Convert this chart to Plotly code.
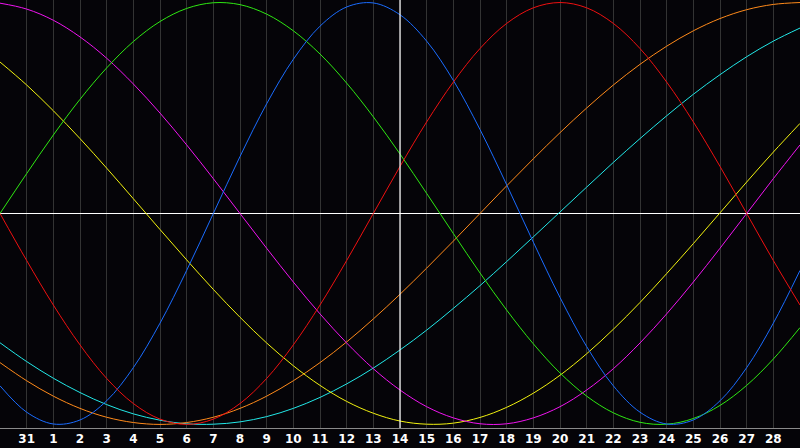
import plotly.graph_objects as go

# day index 0..30 (index 0 = day 30 of previous month, 30 = day 29)
days = list(range(31))
day_labels = ["31"] + [str(d) for d in range(1, 29)]
label_pos = list(range(1, 30))
today = 15  # index of day 14

# curve values, one per day (-1 .. 1)
red = [0, -0.223, -0.434, -0.623, -0.782, -0.901, -0.975, -1.0, -0.975, -0.901,
       -0.782, -0.623, -0.434, -0.223, 0, 0.223, 0.434, 0.623, 0.782, 0.901,
       0.975, 1.0, 0.975, 0.901, 0.782, 0.623, 0.434, 0.223, 0, -0.223, -0.434]
green = [0, 0.189, 0.372, 0.541, 0.690, 0.815, 0.910, 0.972, 0.999, 0.990, 0.945,
         0.866, 0.756, 0.618, 0.458, 0.282, 0.095, -0.095, -0.282, -0.458, -0.618,
         -0.756, -0.866, -0.945, -0.990, -0.999, -0.972, -0.910, -0.815, -0.690,
         -0.541]
blue = [-0.817, -0.942, -0.998, -0.979, -0.888, -0.731, -0.520, -0.270, 0, 0.270,
        0.520, 0.731, 0.888, 0.979, 0.998, 0.942, 0.817, 0.631, 0.398, 0.136,
        -0.136, -0.398, -0.631, -0.817, -0.942, -0.998, -0.979, -0.888, -0.731,
        -0.520, -0.270]
magenta = [0.997, 0.969, 0.916, 0.837, 0.736, 0.614, 0.476, 0.325, 0.165, 0,
           -0.165, -0.325, -0.476, -0.614, -0.736, -0.837, -0.916, -0.969, -0.997,
           -0.997, -0.969, -0.916, -0.837, -0.736, -0.614, -0.476, -0.325, -0.165,
           0, 0.165, 0.325]
yellow = [0.718, 0.609, 0.487, 0.355, 0.215, 0.070, -0.076, -0.220, -0.360, -0.492,
          -0.614, -0.722, -0.815, -0.891, -0.947, -0.984, -0.999, -0.994, -0.967,
          -0.919, -0.852, -0.767, -0.665, -0.549, -0.422, -0.285, -0.143, 0.003,
          0.149, 0.291, 0.427]
cyan = [-0.613, -0.702, -0.781, -0.849, -0.906, -0.950, -0.980, -0.997, -0.999,
        -0.988, -0.963, -0.924, -0.872, -0.808, -0.733, -0.647, -0.553, -0.450,
        -0.342, -0.228, -0.111, 0.007, 0.125, 0.242, 0.355, 0.463, 0.565, 0.658,
        0.743, 0.817, 0.879]
orange = [-0.707, -0.793, -0.866, -0.924, -0.966, -0.991, -1.0, -0.991, -0.966,
          -0.924, -0.866, -0.793, -0.707, -0.609, -0.5, -0.383, -0.259, -0.131, 0,
          0.131, 0.259, 0.383, 0.5, 0.609, 0.707, 0.793, 0.866, 0.924, 0.966, 0.991,
          1.0]

series = [
    (cyan, "#22e8e8"),
    (orange, "#ff8a1a"),
    (yellow, "#f2f20f"),
    (magenta, "#f014f0"),
    (green, "#2ee812"),
    (blue, "#1a6cff"),
    (red, "#f01010"),
]

fig = go.Figure()
for vals, col in series:
    fig.add_trace(go.Scatter(x=days, y=vals, mode="lines",
                             line=dict(color=col, width=1, shape="spline", smoothing=1),
                             hoverinfo="skip"))

fig.add_vline(x=today, line_color="white", line_width=1.2, layer="above")

fig.update_layout(
    width=800, height=448,
    margin=dict(l=0, r=0, t=0, b=20),
    paper_bgcolor="#050408",
    plot_bgcolor="#050408",
    showlegend=False,
)
fig.update_xaxes(
    range=[0, 30], tickvals=label_pos, ticktext=day_labels,
    showgrid=True, gridcolor="#333333", gridwidth=1,
    tickfont=dict(family="DejaVu Sans", size=12, color="white", weight="bold"),
    ticks="", ticklabelstandoff=0, showline=True, linecolor="#8a8a8a", linewidth=1, mirror=True,
    zeroline=False,
)
fig.update_yaxes(
    range=[-1.017, 1.012], showgrid=False, showticklabels=False,
    zeroline=True, zerolinecolor="white", zerolinewidth=1.2,
    showline=True, linecolor="#8a8a8a", linewidth=1, mirror=True,
)

# drop the browser's default page margin so the chart sits at the corner
fig.write_html("out.html", config={"displayModeBar": False},
               post_script="document.body.style.margin='0';")
